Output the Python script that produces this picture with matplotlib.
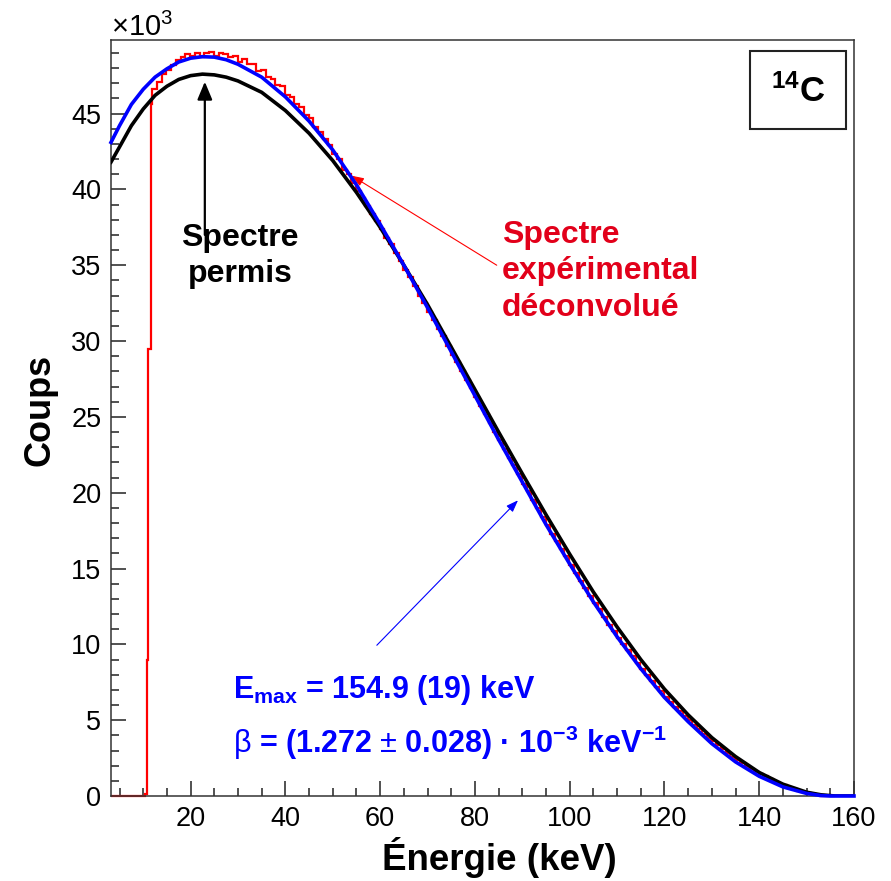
import matplotlib
matplotlib.use("Agg")
import matplotlib.pyplot as plt
from matplotlib.patches import Rectangle
from matplotlib.ticker import MultipleLocator
import numpy as np

plt.rcParams['font.family'] = ['Liberation Sans', 'DejaVu Sans']
plt.rcParams['mathtext.fontset'] = 'custom'
plt.rcParams['mathtext.rm'] = 'Liberation Sans'
plt.rcParams['mathtext.bf'] = 'Liberation Sans:bold'
plt.rcParams['mathtext.it'] = 'Liberation Sans:italic'

# counts in units of 10^3
# allowed spectrum (black)
e_permis = [3.2, 5, 7.5, 10, 12.5, 15, 17.5, 20, 22.5, 25, 27.5, 30, 35, 40, 45,
            50, 55, 60, 65, 70, 75, 80, 85, 90, 95, 100, 105, 110, 115, 120,
            125, 130, 135, 140, 145, 150, 153, 156, 160]
n_permis = [41.8, 42.8, 44.2, 45.3, 46.2, 46.8, 47.25, 47.5, 47.6, 47.55, 47.4, 47.15,
            46.4, 45.2, 43.7, 41.9, 39.8, 37.5, 35.0, 32.4, 29.6, 26.8, 24.0, 21.25,
            18.55, 15.95, 13.45, 11.15, 9.0, 7.05, 5.35, 3.85, 2.6, 1.55, 0.78, 0.25, 0.08,
            0.0, 0.0]

# fit (blue)
e_fit = [3.2, 5, 7.5, 10, 12.5, 15, 17.5, 20, 22.5, 25, 27.5, 30, 35, 40, 45,
         50, 55, 60, 65, 70, 75, 80, 85, 90, 95, 100, 105, 110, 115, 120,
         125, 130, 135, 140, 145, 150, 153, 155, 160]
n_fit = [43.1, 44.2, 45.6, 46.6, 47.4, 47.95, 48.4, 48.65, 48.75, 48.72, 48.55, 48.25,
         47.4, 46.1, 44.5, 42.6, 40.3, 37.7, 35.0, 32.2, 29.3, 26.4, 23.5, 20.7,
         17.9, 15.3, 12.8, 10.5, 8.4, 6.5, 4.9, 3.45, 2.25, 1.3, 0.6, 0.17, 0.03,
         0.0, 0.0]

# experimental deconvolved spectrum (red histogram)
exp_edges_start = [3.2, 10.4, 10.7, 11.0, 11.6]
exp_vals_start = [0.0, 0.15, 9.0, 29.5, 45.6]
exp_first_bin = 11.9
exp_vals = [46.6, 47.1, 47.6, 47.9, 48.2, 48.5, 48.7, 48.9, 48.8, 49.0,
            48.7, 49.0, 49.05, 48.8, 49.0, 48.9, 48.7, 48.8, 48.4, 48.6,
            48.3, 48.3, 47.8, 47.9, 47.4, 47.3, 46.9, 46.8, 46.2, 46.1,
            45.6, 45.4, 44.9, 44.7, 44.1, 43.8, 43.3, 42.9, 42.3, 42.0,
            41.3, 41.0, 40.4, 39.9, 39.4, 38.9, 38.4, 37.9, 37.4, 36.8,
            36.4, 35.8, 35.3, 34.7, 34.2, 33.6, 33.0, 32.5, 31.9, 31.4,
            30.8, 30.3, 29.7, 29.1, 28.6, 28.0, 27.4, 26.9, 26.3, 25.7,
            25.2, 24.6, 24.0, 23.5, 22.9, 22.3, 21.8, 21.2, 20.6, 20.1,
            19.5, 19.0, 18.4, 17.9, 17.3, 16.8, 16.3, 15.8, 15.2, 14.7,
            14.2, 13.7, 13.2, 12.7, 12.3, 11.8, 11.3, 10.9, 10.4, 10.0,
            9.6, 9.2, 8.8, 8.4, 8.0, 7.6, 7.2, 6.9, 6.5, 6.2,
            5.9, 5.6, 5.3, 5.0, 4.7, 4.4, 4.1, 3.85, 3.6, 3.35,
            3.1, 2.85, 2.6, 2.4, 2.2, 2.0, 1.8, 1.6, 1.45, 1.3,
            1.1, 0.95, 0.8, 0.7, 0.55, 0.45, 0.35, 0.25, 0.18, 0.12,
            0.07, 0.03, 0.01, 0.0]

red_edges = exp_edges_start + list(exp_first_bin + np.arange(len(exp_vals) + 1))
red_vals = exp_vals_start + exp_vals

fig = plt.figure(figsize=(8.91, 8.81), dpi=100)
ax = fig.add_axes([111 / 891, 1 - 796 / 881, 743 / 891, 756 / 881])

ax.stairs(red_vals, red_edges, baseline=None, color='#ff0000', lw=1.6, clip_on=False, zorder=2)
ax.plot(e_permis, n_permis, color='black', lw=2.6, zorder=3)
ax.plot(e_fit, n_fit, color='#0000ff', lw=2.6, zorder=4, clip_on=False)

ax.set_xlim(3.2, 160)
ax.set_ylim(0, 49.85)
ax.xaxis.set_major_locator(MultipleLocator(20))
ax.xaxis.set_minor_locator(MultipleLocator(5))
ax.yaxis.set_major_locator(MultipleLocator(5))
ax.yaxis.set_minor_locator(MultipleLocator(1))
ax.tick_params(which='both', direction='in', colors='#222222', labelcolor='black',
               labelsize=19.5, width=1.1)
ax.tick_params(which='major', length=11, pad=7)
ax.tick_params(which='minor', length=5.5)
for s in ax.spines.values():
    s.set_color('#333333')
    s.set_linewidth(1.1)

fig.text(111 / 891, 1 - 36 / 881, r'$\times$10$^{3}$', fontsize=21, ha='left', va='baseline')
fig.text(40 / 891, 1 - 410 / 881, 'Coups', rotation=90, fontsize=26, fontweight='bold',
         ha='center', va='center')
fig.text(499 / 891, 1 - 857 / 881, 'Énergie (keV)', fontsize=26.5, fontweight='bold',
         ha='center', va='center')

# 14C box
ax.add_patch(Rectangle((0.860, 0.882), 0.129, 0.104, transform=ax.transAxes,
                       fill=False, ec='#222222', lw=1.5))
ax.text(0.9246, 0.932, r'$^{\mathbf{14}}$C', transform=ax.transAxes, fontsize=25,
        fontweight='bold', ha='center', va='center')

# annotations
ax.annotate('', xy=(23.0, 47.1), xytext=(23.0, 37.0),
            arrowprops=dict(arrowstyle='-|>,head_length=0.6,head_width=0.25',
                            mutation_scale=18, color='black', lw=1.6,
                            shrinkA=0, shrinkB=0))
ax.text(30.4, 35.6, 'Spectre\npermis', fontsize=23, fontweight='bold',
        ha='center', va='center', linespacing=1.25)

ax.annotate('', xy=(54.0, 40.9), xytext=(84.6, 35.0),
            arrowprops=dict(arrowstyle='-|>,head_length=0.6,head_width=0.22',
                            mutation_scale=12, color='#ff0000', lw=0.8,
                            shrinkA=0, shrinkB=0))
ax.text(85.7, 34.6, 'Spectre\nexpérimental\ndéconvolué', fontsize=23,
        fontweight='bold', color='#e2001a', ha='left', va='center', linespacing=1.28)

ax.annotate('', xy=(89.1, 19.5), xytext=(59.3, 9.94),
            arrowprops=dict(arrowstyle='-|>,head_length=0.6,head_width=0.22',
                            mutation_scale=12, color='#0000ff', lw=0.8,
                            shrinkA=0, shrinkB=0))
ax.text(28.9, 6.97, r'$\mathbf{E}_{\mathbf{max}}$' + ' = 154.9 (19) keV', fontsize=22,
        fontweight='bold', color='#0000ff', ha='left', va='center')
ax.text(28.9, 3.53, r'$\mathrm{\beta}$' + ' = (1.272 ' + r'$\pm$' + ' 0.028) · 10'
        + r'$^{\mathbf{-3}}$' + ' keV' + r'$^{\mathbf{-1}}$', fontsize=22,
        fontweight='bold', color='#0000ff', ha='left', va='center')

fig.savefig('out.png', dpi=100)
